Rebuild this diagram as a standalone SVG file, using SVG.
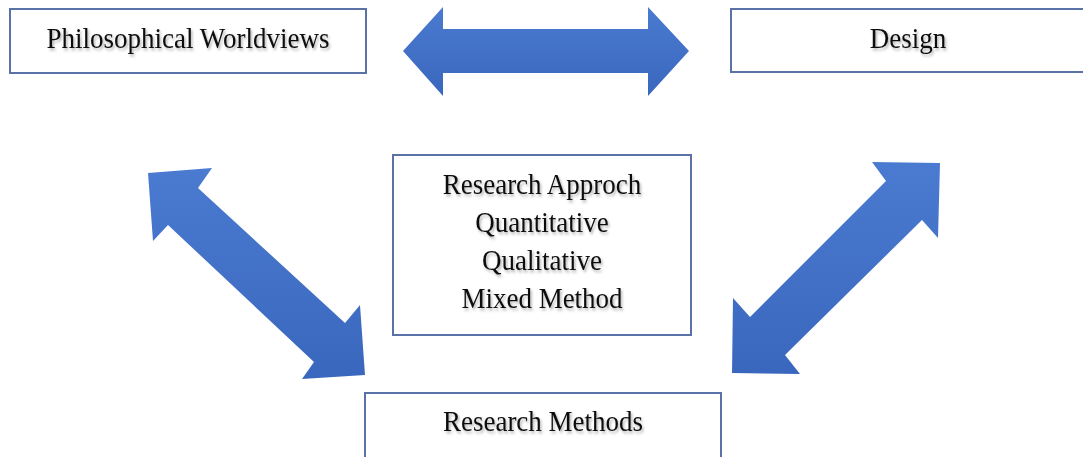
<svg xmlns="http://www.w3.org/2000/svg" width="1083" height="457" viewBox="0 0 1083 457">
<defs>
<linearGradient id="blue" x1="0" y1="0" x2="0" y2="1">
<stop offset="0" stop-color="#4A7BD0"/>
<stop offset="1" stop-color="#3A67BE"/>
</linearGradient>
<filter id="sh" x="-10%" y="-30%" width="120%" height="160%">
<feDropShadow dx="1.5" dy="2" stdDeviation="1.3" flood-color="#000" flood-opacity="0.3"/>
</filter>
</defs>
<style>
.box{fill:#fff;stroke:#5A72A6;stroke-width:2}
.lbl{font-family:"Liberation Serif","Times New Roman",serif;font-size:27px;fill:#111;text-anchor:middle;filter:url(#sh)}
.arr{fill:url(#blue)}
</style>
<rect width="1083" height="457" fill="#fff"/>
<g id="connectors">
<polygon class="arr" points="403,51 443,7 443,29 648,29 648,7 689,51 648,96 648,73 443,73 443,96"/>
<polygon class="arr" points="148,173 212,168 198,188 345,323 360,305 365,375 302,379 314,362 168,225 153,241"/>
<polygon class="arr" points="940,163 938,238 922,220 785,355 800,374 732,373 733,298 750,317 886,181 872,162"/>
</g>
<g id="philosophical-worldviews">
<rect class="box" x="10" y="9" width="356" height="64"/>
<text class="lbl" transform="translate(188,48) scale(1,1.12)">Philosophical Worldviews</text>
</g>
<g id="design">
<rect class="box" x="731" y="9" width="356" height="63"/>
<text class="lbl" transform="translate(908,48) scale(1,1.12)">Design</text>
</g>
<g id="research-approach">
<rect class="box" x="393" y="155" width="298" height="180"/>
<text class="lbl" transform="translate(542,194) scale(1,1.12)">Research Approch</text>
<text class="lbl" transform="translate(542,232) scale(1,1.12)">Quantitative</text>
<text class="lbl" transform="translate(542,270) scale(1,1.12)">Qualitative</text>
<text class="lbl" transform="translate(542,308) scale(1,1.12)">Mixed Method</text>
</g>
<g id="research-methods">
<rect class="box" x="365" y="393" width="356" height="70"/>
<text class="lbl" transform="translate(543,431) scale(1,1.12)">Research Methods</text>
</g>
</svg>
